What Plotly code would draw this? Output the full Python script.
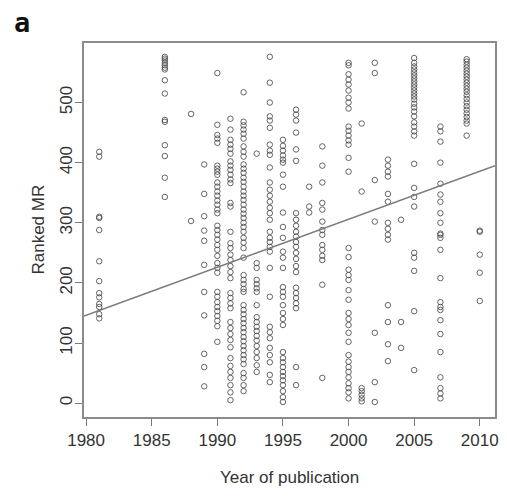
import plotly.graph_objects as go

# Ranked MR values per year of publication
years = [1981, 1986, 1988, 1989, 1990, 1991, 1992, 1993, 1994, 1995, 1996, 1997,
         1998, 2000, 2001, 2002, 2003, 2004, 2005, 2007, 2009, 2010]

mr_1981 = [418, 410, 310, 308, 288, 236, 203, 183, 176, 165, 160, 148, 141]
mr_1986 = [576, 573, 570, 566, 562, 558, 555, 537, 515, 471, 468, 429, 411, 375, 343]
mr_1988 = [481, 303]
mr_1989 = [397, 348, 311, 287, 270, 230, 185, 146, 82, 60, 28]
mr_1990 = [549, 463, 446, 440, 433, 395, 390, 385, 380, 367, 360, 352, 345, 337, 330,
           322, 316, 295, 288, 280, 272, 263, 255, 245, 233, 225, 217, 185, 177, 168,
           160, 153, 145, 137, 128, 102]
mr_1991 = [473, 455, 438, 430, 423, 415, 402, 395, 388, 380, 372, 366, 333, 327, 285,
           266, 258, 247, 238, 228, 218, 208, 183, 175, 166, 158, 135, 125, 115, 105,
           93, 75, 62, 52, 42, 30, 18, 5]
mr_1992 = [517, 468, 462, 455, 448, 440, 427, 418, 410, 397, 390, 383, 375, 368, 360,
           352, 345, 338, 330, 322, 315, 308, 300, 293, 285, 275, 267, 258, 242, 213,
           205, 198, 190, 185, 163, 155, 148, 140, 133, 125, 118, 110, 103, 95, 88,
           80, 73, 65, 50, 42, 30, 20]
mr_1993 = [415, 233, 225, 205, 198, 191, 185, 163, 143, 135, 127, 120, 112, 104, 95,
           85, 75, 63, 52]
mr_1994 = [576, 533, 500, 477, 470, 458, 430, 420, 413, 392, 367, 355, 345, 335, 325,
           316, 305, 285, 275, 268, 260, 252, 225, 177, 127, 118, 108, 92, 80, 68,
           47, 35]
mr_1995 = [438, 428, 420, 412, 405, 400, 380, 360, 317, 293, 275, 252, 242, 225, 193,
           185, 177, 163, 150, 140, 130, 85, 75, 68, 60, 52, 45, 38, 30, 20, 10, 2]
mr_1996 = [488, 480, 470, 450, 422, 403, 316, 305, 295, 285, 277, 268, 260, 250, 240,
           228, 218, 192, 183, 175, 166, 158, 60, 30]
mr_1997 = [360, 327, 317]
mr_1998 = [427, 395, 367, 333, 322, 302, 288, 280, 263, 255, 245, 238, 197, 42]
mr_2000 = [566, 562, 547, 538, 530, 520, 508, 500, 490, 460, 453, 445, 437, 430, 408,
           385, 258, 243, 222, 213, 205, 188, 172, 150, 140, 130, 117, 102, 80, 69,
           60, 52, 43, 33, 25, 18, 8]
mr_2001 = [465, 352, 25, 20, 14, 8, 3]
mr_2002 = [566, 549, 371, 302, 117, 35, 2]
mr_2003 = [405, 395, 385, 377, 348, 335, 300, 290, 280, 272, 163, 135, 98, 70]
mr_2004 = [305, 135, 92]
mr_2005 = [574, 566, 560, 555, 550, 545, 540, 535, 530, 525, 520, 515, 510, 505, 498,
           492, 485, 477, 467, 460, 452, 445, 398, 358, 343, 327, 250, 242, 220, 153, 55]
mr_2007 = [460, 452, 435, 400, 365, 347, 335, 316, 300, 282, 280, 275, 255, 208, 168,
           160, 155, 138, 115, 85, 43, 25, 16, 8]
mr_2009 = [572, 568, 563, 558, 553, 548, 543, 538, 533, 528, 523, 518, 512, 506, 500,
           494, 488, 482, 476, 470, 465, 445]
mr_2010 = [287, 285, 247, 217, 170]

mr_by_year = [mr_1981, mr_1986, mr_1988, mr_1989, mr_1990, mr_1991, mr_1992, mr_1993,
              mr_1994, mr_1995, mr_1996, mr_1997, mr_1998, mr_2000, mr_2001, mr_2002,
              mr_2003, mr_2004, mr_2005, mr_2007, mr_2009, mr_2010]

# Regression line end points
fit_years = [1979.84, 2011.16]
fit_values = [145, 395]

x_ticks = [1980, 1985, 1990, 1995, 2000, 2005, 2010]
y_ticks = [0, 100, 200, 300, 400, 500]

xs, ys = [], []
for yr, vals in zip(years, mr_by_year):
    xs.extend([yr] * len(vals))
    ys.extend(vals)

fig = go.Figure()
fig.add_trace(go.Scatter(
    x=xs, y=ys, mode="markers",
    marker=dict(symbol="circle-open", size=5.5, color="rgba(75,75,75,0.85)",
                line=dict(width=1, color="rgba(75,75,75,0.85)")),
    showlegend=False, hoverinfo="skip"))
fig.add_trace(go.Scatter(
    x=fit_years, y=fit_values, mode="lines",
    line=dict(color="#7a7a7a", width=1.6),
    showlegend=False, hoverinfo="skip"))

font_family = "Liberation Sans, Arial, sans-serif"
axis_common = dict(showgrid=False, zeroline=False, showline=True, mirror=True,
                   linecolor="#8a8a8a", linewidth=1.5, ticks="outside", ticklen=7,
                   tickcolor="#7a7a7a", tickwidth=1.2,
                   tickfont=dict(family=font_family, size=17, color="#333333"))

# the page body has an 8px default margin, so the figure is 8px smaller
fig.update_layout(
    width=499, height=494,
    margin=dict(l=76, r=8, t=35, b=85),
    paper_bgcolor="white", plot_bgcolor="white",
    xaxis=dict(range=[1979.84, 2011.16], tickvals=x_ticks, **axis_common),
    yaxis=dict(range=[-23, 599], tickvals=y_ticks, tickangle=-90,
               ticklabelstandoff=-4, **axis_common),
    annotations=[
        dict(text="Ranked MR", xref="paper", yref="paper", x=-0.113, y=0.5,
             xanchor="center", yanchor="middle",
             textangle=-90, showarrow=False,
             font=dict(family=font_family, size=17, color="#333333")),
        dict(text="Year of publication", xref="paper", yref="paper", x=0.5, y=-0.163,
             xanchor="center", yanchor="middle", showarrow=False,
             font=dict(family=font_family, size=17, color="#333333")),
        dict(text="<b>a</b>", xref="paper", yref="paper", x=-0.150, y=1.054,
             xanchor="center", yanchor="middle", showarrow=False, borderpad=0,
             font=dict(family="DejaVu Sans Mono, monospace", size=27, color="#111111")),
    ],
)

fig.write_html("out.html")
